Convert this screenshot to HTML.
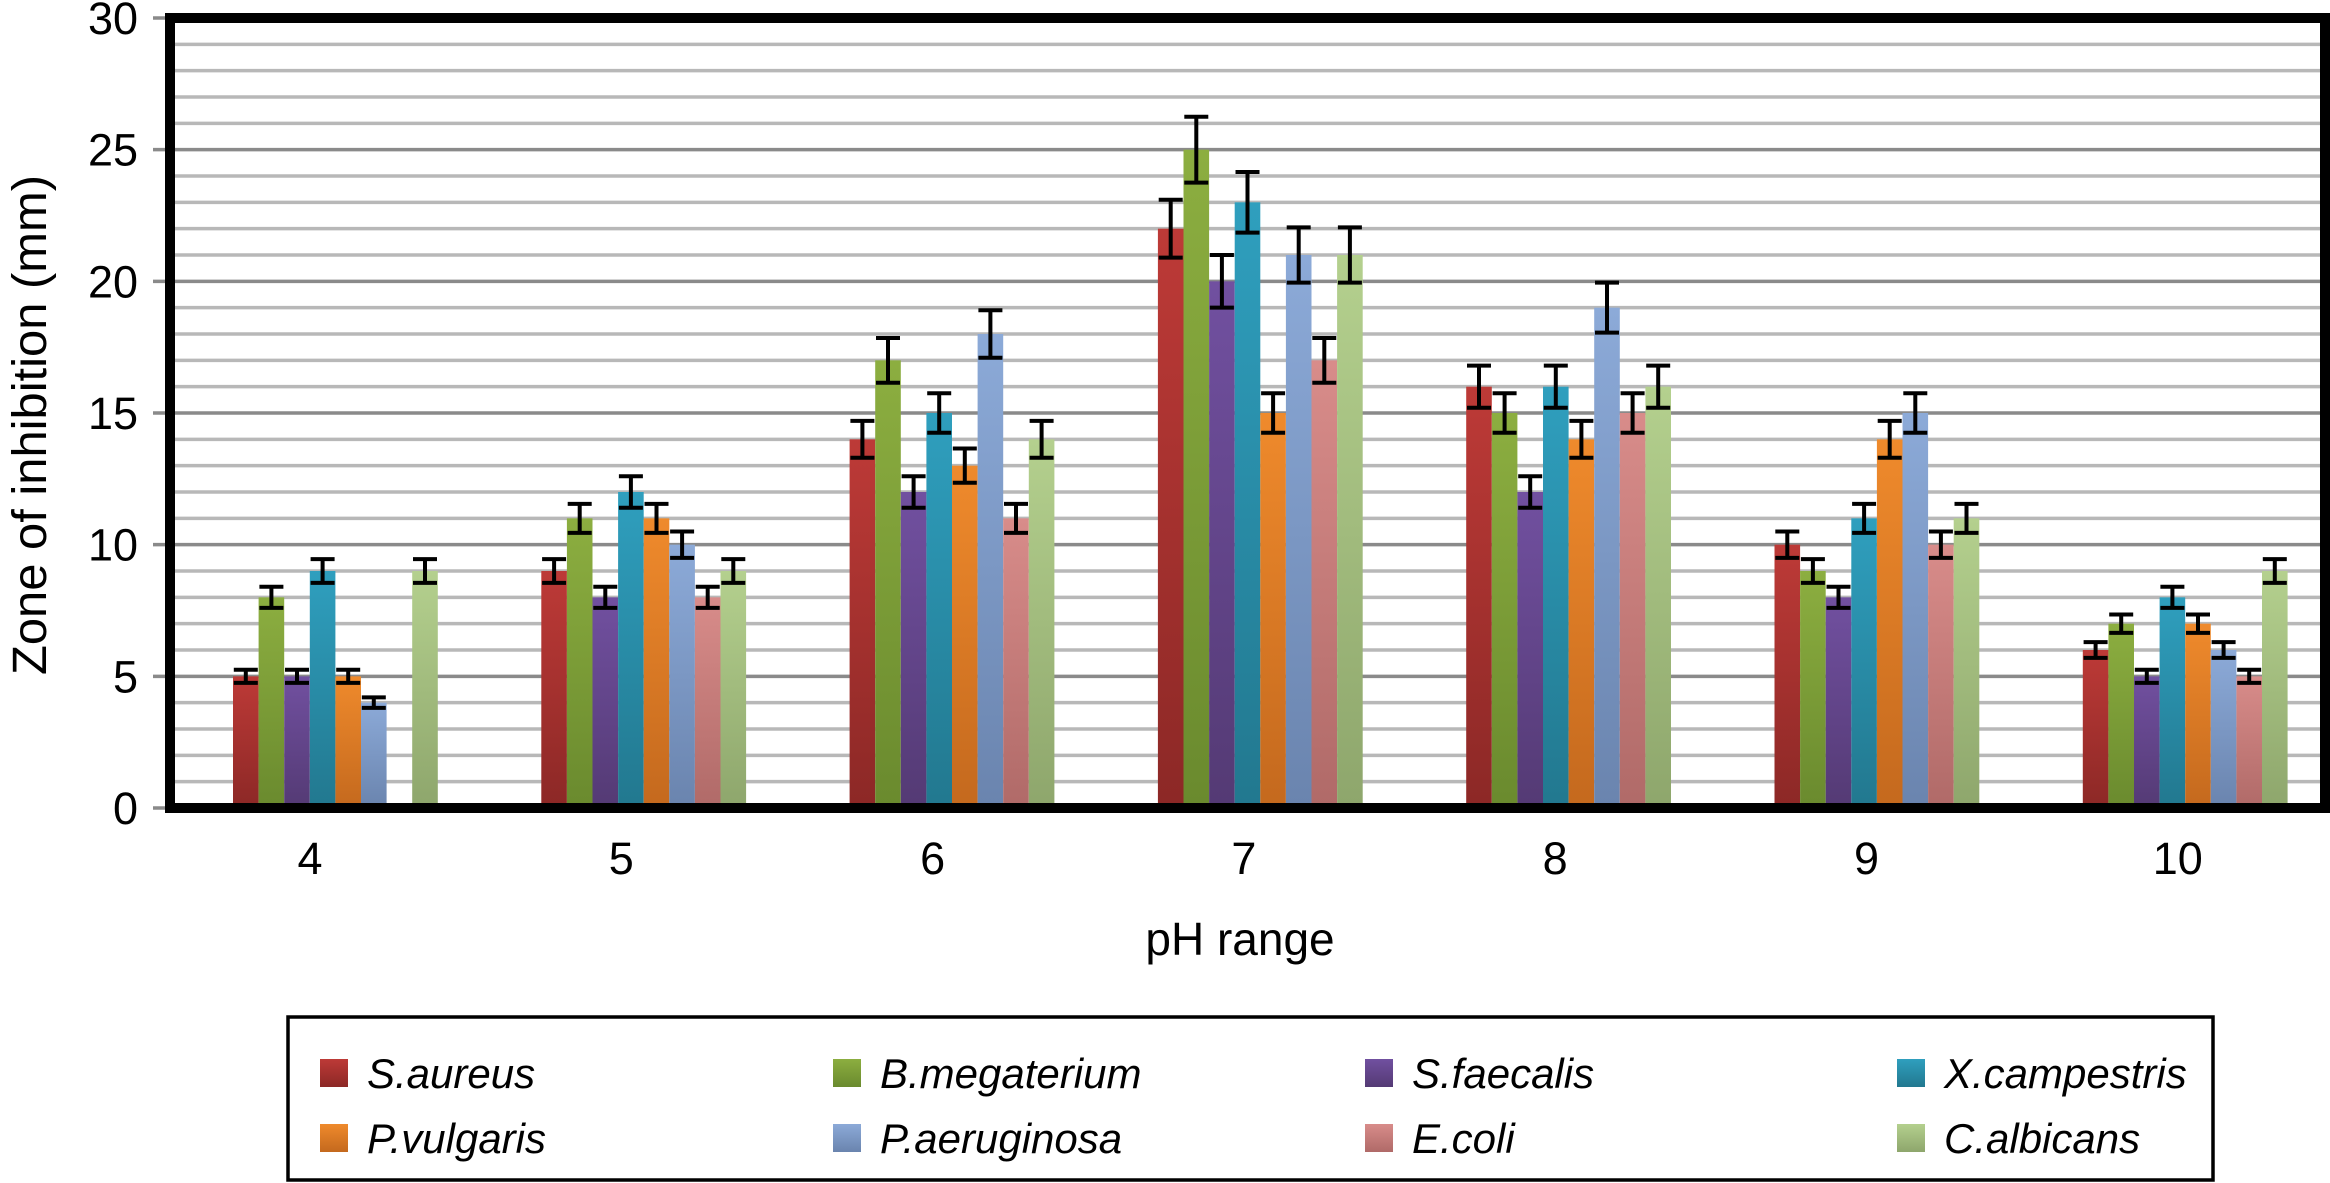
<!DOCTYPE html>
<html><head><meta charset="utf-8"><style>
html,body{margin:0;padding:0;background:#fff;}
svg{display:block;font-family:"Liberation Sans",sans-serif;}
</style></head><body>
<svg id="chart" width="2330" height="1183" viewBox="0 0 2330 1183" xmlns="http://www.w3.org/2000/svg">
<defs id="defs"></defs>
<g id="grid"></g>
<g id="yaxis"></g>
<g id="bars"></g>
<g id="errs"></g>
<rect x="170" y="18" width="2155" height="790" fill="none" stroke="#000" stroke-width="10"/>
<g id="xaxis"></g>
<text transform="translate(46,425) rotate(-90)" text-anchor="middle" font-size="48" textLength="500" lengthAdjust="spacingAndGlyphs">Zone of inhibition (mm)</text>
<text x="1240" y="955" text-anchor="middle" font-size="46">pH range</text>
<rect x="288" y="1017" width="1925" height="163" fill="#fff" stroke="#000" stroke-width="3.5"/>
<g id="legend"></g>
</svg>
<script>
const categories = ["4","5","6","7","8","9","10"];
const seriesNames = ["S.aureus","B.megaterium","S.faecalis","X.campestris","P.vulgaris","P.aeruginosa","E.coli","C.albicans"];
const sAureus     = [5, 9, 14, 22, 16, 10, 6];
const bMegaterium = [8, 11, 17, 25, 15, 9, 7];
const sFaecalis   = [5, 8, 12, 20, 12, 8, 5];
const xCampestris = [9, 12, 15, 23, 16, 11, 8];
const pVulgaris   = [5, 11, 13, 15, 14, 14, 7];
const pAeruginosa = [4, 10, 18, 21, 19, 15, 6];
const eColi       = [0, 8, 11, 17, 15, 10, 5];
const cAlbicans   = [9, 9, 14, 21, 16, 11, 9];
const errSAureus     = [0.25, 0.45, 0.7, 1.1, 0.8, 0.5, 0.3];
const errBMegaterium = [0.4, 0.55, 0.85, 1.25, 0.75, 0.45, 0.35];
const errSFaecalis   = [0.25, 0.4, 0.6, 1.0, 0.6, 0.4, 0.25];
const errXCampestris = [0.45, 0.6, 0.75, 1.15, 0.8, 0.55, 0.4];
const errPVulgaris   = [0.25, 0.55, 0.65, 0.75, 0.7, 0.7, 0.35];
const errPAeruginosa = [0.2, 0.5, 0.9, 1.05, 0.95, 0.75, 0.3];
const errEColi       = [0, 0.4, 0.55, 0.85, 0.75, 0.5, 0.25];
const errCAlbicans   = [0.45, 0.45, 0.7, 1.05, 0.8, 0.55, 0.45];
const yTicks = [0, 5, 10, 15, 20, 25, 30];

const values = [sAureus,bMegaterium,sFaecalis,xCampestris,pVulgaris,pAeruginosa,eColi,cAlbicans];
const errs = [errSAureus,errBMegaterium,errSFaecalis,errXCampestris,errPVulgaris,errPAeruginosa,errEColi,errCAlbicans];
const colors = [["#bd3a37","#8c2826"],["#8cae40","#6a8a2e"],["#7150a0","#543a74"],["#2f9fbe","#22788f"],["#ef8a2c","#c4691e"],["#8caad8","#6a84ae"],["#d88c8a","#b06a68"],["#b4d08e","#8ea66c"]];
const NS="http://www.w3.org/2000/svg";
const Y0=808, YTOP=18, YMAX=30;
function y(v){return Y0-(v/YMAX)*(Y0-YTOP);}
const BAR_W=25.6, GROUP0=233, GROUP_STEP=308.3, LABEL0=310, LABEL_STEP=311.3;
function xBar(ci,si){return GROUP0+ci*GROUP_STEP+si*BAR_W;}
function xLabel(ci){return LABEL0+ci*LABEL_STEP;}
function mk(tag,attrs,parent){const e=document.createElementNS(NS,tag);for(const k in attrs)e.setAttribute(k,attrs[k]);parent.appendChild(e);return e;}

const defs=document.getElementById('defs');
colors.forEach((c,i)=>{const g=mk('linearGradient',{id:'g'+i,x1:0,y1:0,x2:0,y2:1},defs);mk('stop',{offset:0,'stop-color':c[0]},g);mk('stop',{offset:1,'stop-color':c[1]},g);});

const grid=document.getElementById('grid');
for(let v=1;v<YMAX;v++){
  const l=mk('line',{x1:175,x2:2320,y1:y(v),y2:y(v),stroke:(v%5===0)?'#8a8a8a':'#b8b8b8','stroke-width':3.5},grid);
  
  
}
const yaxis=document.getElementById('yaxis');
yTicks.forEach(t=>{
  const tk=mk('line',{x1:153,x2:170,y1:y(t),y2:y(t),stroke:'#8a8a8a','stroke-width':3.5},yaxis);
  
  
  const tx=mk('text',{x:138,y:y(t)+16,'text-anchor':'end','font-size':45},yaxis);
  
  
  tx.textContent=String(t);
});
const bars=document.getElementById('bars'), eg=document.getElementById('errs');
values.forEach((arr,si)=>{arr.forEach((v,ci)=>{
  if(v<=0)return;
  const x=xBar(ci,si);
  const r=mk('rect',{x:x,y:y(v),width:BAR_W,height:Y0-y(v),fill:'url(#g'+si+')'},bars);
  
  
  const e=errs[si][ci], cx=x+BAR_W/2, hw=12;
  const p=mk('path',{d:`M${cx} ${y(v+e)}V${y(v-e)}M${cx-hw} ${y(v+e)}H${cx+hw}M${cx-hw} ${y(v-e)}H${cx+hw}`,stroke:'#000','stroke-width':4,fill:'none'},eg);
  
  
});});
const xaxis=document.getElementById('xaxis');
categories.forEach((c,ci)=>{
  const t=mk('text',{x:xLabel(ci),y:874,'text-anchor':'middle','font-size':45},xaxis);
  
  
  t.textContent=c;
});
const legend=document.getElementById('legend');
const colX=[320,833,1365,1897], rowY=[1073,1138];
seriesNames.forEach((n,i)=>{
  const cx=colX[i%4], cy=rowY[Math.floor(i/4)];
  const g=mk('g',{},legend);
  
  
  mk('rect',{x:cx,y:cy-14,width:28,height:28,fill:'url(#g'+i+')'},g);
  const t=mk('text',{x:cx+47,y:cy+15,'font-size':42,'font-style':'italic'},g);
  t.textContent=n;
});
</script>
</body></html>
